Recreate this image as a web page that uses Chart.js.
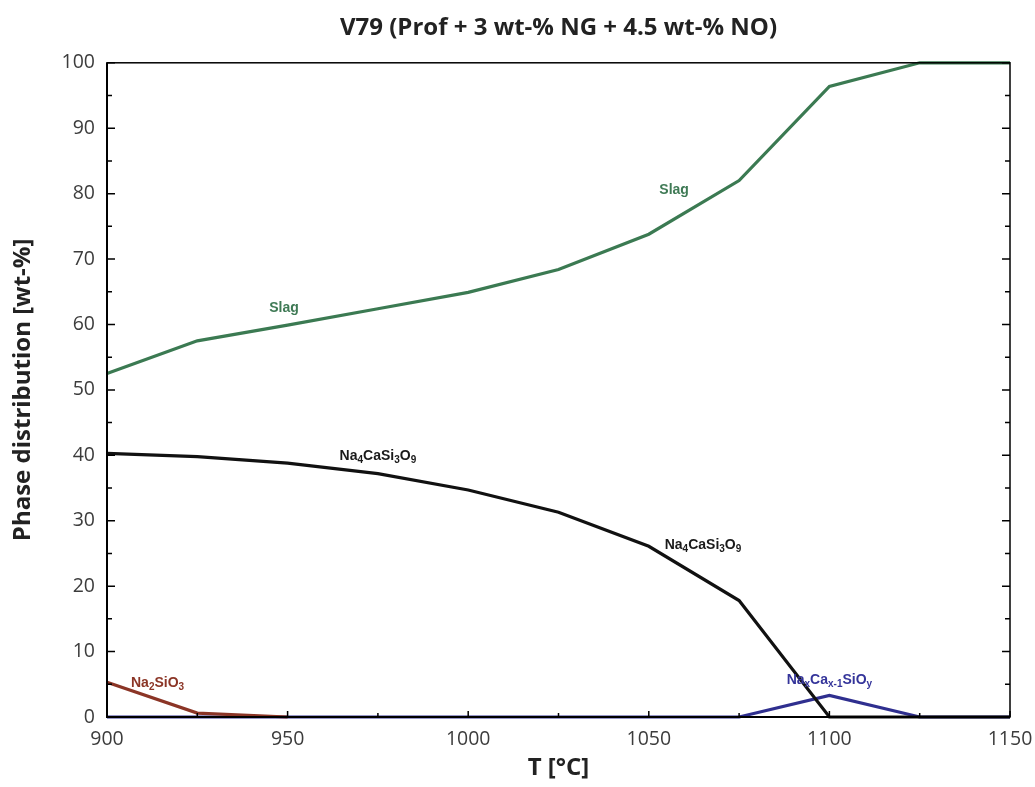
<!DOCTYPE html>
<html>
<head>
<meta charset="utf-8">
<script src="https://cdn.jsdelivr.net/npm/chart.js@4/dist/chart.umd.min.js"></script>
<style>
html,body{margin:0;padding:0;background:#fff;}
#wrap{width:1035px;height:787px;}
</style>
</head>
<body>
<div id="wrap"><canvas id="c" width="1035" height="787"></canvas></div>
<script>
const temperatures = [900, 925, 950, 975, 1000, 1025, 1050, 1075, 1100, 1125, 1150];
const slag        = [52.5, 57.5, 59.9, 62.4, 64.9, 68.4, 73.8, 82.0, 96.4, 100, 100];
const na4caSi3o9  = [40.3, 39.8, 38.8, 37.2, 34.7, 31.3, 26.1, 17.8, 0, 0, 0];
const na2sio3     = [5.3, 0.6, 0, null, null, null, null, null, null, null, null];
const naxCaSiOy   = [0, 0, 0, 0, 0, 0, 0, 0, 3.3, 0, 0];
const xTicks = [900, 950, 1000, 1050, 1100, 1150];
const yTicks = [0, 10, 20, 30, 40, 50, 60, 70, 80, 90, 100];

const annotations = [
  {text: 'Slag', x: 949, y: 62.5, color: '#3f7a55'},
  {text: 'Slag', x: 1057, y: 80.5, color: '#3f7a55'},
  {text: 'Na_{4}CaSi_{3}O_{9}', x: 975, y: 39.8, color: '#1a1a1a'},
  {text: 'Na_{4}CaSi_{3}O_{9}', x: 1065, y: 26.2, color: '#1a1a1a'},
  {text: 'Na_{2}SiO_{3}', x: 914, y: 5.2, color: '#8b3526'},
  {text: 'Na_{x}Ca_{x-1}SiO_{y}', x: 1100, y: 5.6, color: '#34349a'}
];

function parseChem(s){
  const parts=[]; let i=0; let buf='';
  while(i<s.length){
    if(s[i]==='_' && s[i+1]==='{'){
      if(buf){parts.push([buf,false]);buf='';}
      const j=s.indexOf('}',i);
      parts.push([s.slice(i+2,j),true]); i=j+1;
    } else {buf+=s[i]; i++;}
  }
  if(buf) parts.push([buf,false]);
  return parts;
}

const mainFont = 'bold 14px "Liberation Sans", Arial, sans-serif';
const subFont = 'bold 10px "Liberation Sans", Arial, sans-serif';

const framePlugin = {
  id: 'frame',
  afterDatasetsDraw(chart){
    const ctx = chart.ctx, a = chart.chartArea;
    const xs = chart.scales.x, ys = chart.scales.y;
    ctx.save();
    ctx.textBaseline = 'middle';
    annotations.forEach(an => {
      const parts = parseChem(an.text);
      let w = 0;
      parts.forEach(p => { ctx.font = p[1] ? subFont : mainFont; w += ctx.measureText(p[0]).width; });
      let px = xs.getPixelForValue(an.x) - w/2;
      const py = ys.getPixelForValue(an.y);
      ctx.fillStyle = an.color;
      ctx.textAlign = 'left';
      parts.forEach(p => {
        ctx.font = p[1] ? subFont : mainFont;
        ctx.fillText(p[0], px, p[1] ? py + 4 : py);
        px += ctx.measureText(p[0]).width;
      });
    });
    ctx.strokeStyle = '#000';
    ctx.lineWidth = 1.5;
    ctx.strokeRect(a.left, a.top, a.right - a.left, a.bottom - a.top);
    ctx.lineWidth = 2;
    ctx.beginPath();
    ctx.moveTo(a.left, a.top); ctx.lineTo(a.left, a.bottom); ctx.lineTo(a.right, a.bottom);
    ctx.stroke();
    ctx.lineWidth = 1.5;
    ctx.beginPath();
    for (let v = 0; v <= 100; v += 5) {
      const y = ys.getPixelForValue(v);
      const len = v % 10 === 0 ? 8 : 5;
      ctx.moveTo(a.left, y); ctx.lineTo(a.left + len, y);
      ctx.moveTo(a.right, y); ctx.lineTo(a.right - len, y);
    }
    for (let v = 900; v <= 1150; v += 25) {
      const x = xs.getPixelForValue(v);
      const len = v % 50 === 0 ? 6 : 4;
      ctx.moveTo(x, a.bottom); ctx.lineTo(x, a.bottom - len);
    }
    ctx.stroke();
    ctx.restore();
  }
};

const mk = (label, data, color, order) => ({
  label, data: temperatures.map((t,i)=>({x:t,y:data[i]})),
  borderColor: color, backgroundColor: color, borderWidth: 3.2,
  pointRadius: 0, tension: 0, fill: false, order, clip: false, spanGaps: false
});

const tickFont = {family: '"Open Sans", sans-serif', size: 19.5};
const titleFont = {family: '"Open Sans", sans-serif', size: 24, weight: 'bold', lineHeight: 1.2};

new Chart(document.getElementById('c'), {
  type: 'line',
  data: {
    datasets: [
      mk('Na4CaSi3O9', na4caSi3o9, '#111111', 0),
      mk('Na2SiO3', na2sio3, '#8b3526', 1),
      mk('NaxCax-1SiOy', naxCaSiOy, '#2f2f8f', 2),
      mk('Slag', slag, '#3b7a52', 3)
    ]
  },
  plugins: [framePlugin],
  options: {
    responsive: false,
    animation: false,
    layout: {padding: {left: 0, right: 25, top: 0, bottom: 0}},
    plugins: {
      legend: {display: false},
      tooltip: {enabled: false},
      title: {
        display: true,
        fullSize: false,
        text: 'V79 (Prof + 3 wt-% NG + 4.5 wt-% NO)',
        color: '#222',
        font: titleFont,
        padding: {top: 14, bottom: 20}
      }
    },
    scales: {
      x: {
        type: 'linear', min: 900, max: 1150,
        afterBuildTicks: s => { s.ticks = xTicks.map(v => ({value: v})); },
        afterFit: s => { s.height = 70; s.paddingRight = 0; s.paddingLeft = 0; },
        grid: {display: false, drawTicks: false},
        border: {display: false},
        ticks: {color: '#3c3c3c', padding: 11, font: tickFont, maxRotation: 0, callback: v => String(v)},
        title: {display: true, text: 'T [°C]', color: '#222', font: titleFont, padding: {top: 2}}
      },
      y: {
        type: 'linear', min: 0, max: 100,
        afterBuildTicks: s => { s.ticks = yTicks.map(v => ({value: v})); },
        afterFit: s => { s.width = 107; s.paddingTop = 0; s.paddingBottom = 0; },
        grid: {display: false, drawTicks: false},
        border: {display: false},
        ticks: {color: '#3c3c3c', padding: 12, font: tickFont, callback: v => String(v)},
        title: {display: true, text: 'Phase distribution [wt-%]', color: '#222', font: titleFont, padding: {top: 9, bottom: 0}}
      }
    }
  }
});
</script>
</body>
</html>
